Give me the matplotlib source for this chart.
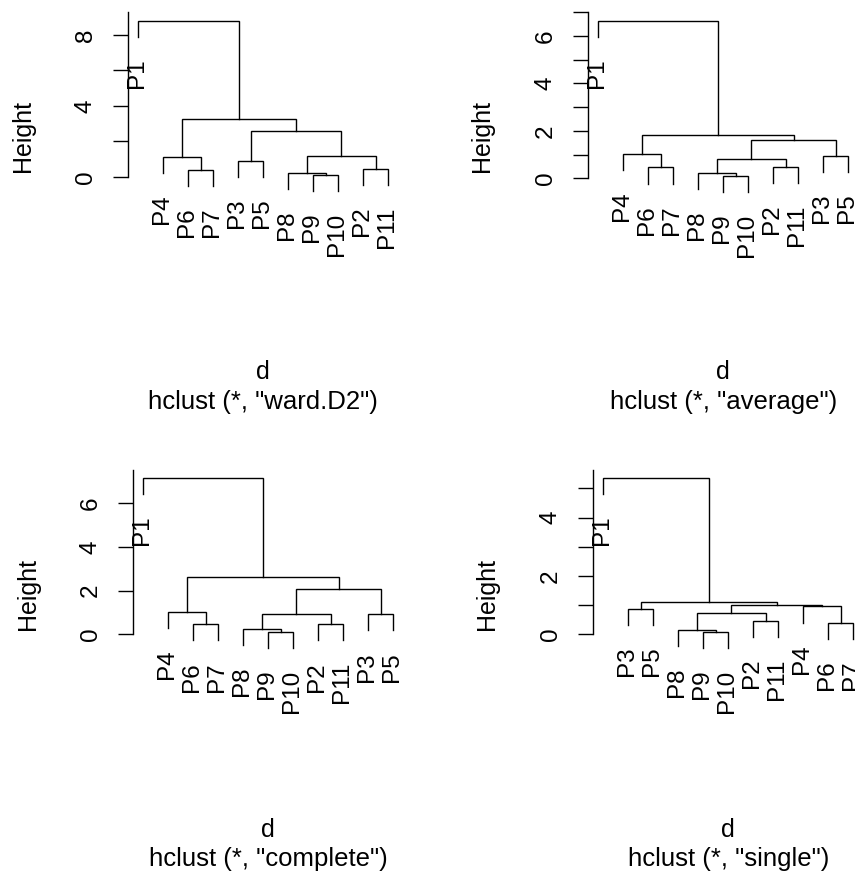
import matplotlib
matplotlib.use("Agg")
import matplotlib.pyplot as plt
from matplotlib.transforms import offset_copy

plt.rcParams['font.family'] = ['Liberation Sans', 'DejaVu Sans']

W, H = 855, 871
FS = 17.5
HANG = 0.105

# leaf orders and merges (a, b, height); ints refer to earlier merges
ward_order = ["P1", "P4", "P6", "P7", "P3", "P5", "P8", "P9", "P10", "P2", "P11"]
ward_merges = [("P9", "P10", 0.11), ("P8", 0, 0.23), ("P6", "P7", 0.40),
               ("P2", "P11", 0.46), ("P3", "P5", 0.88), ("P4", 2, 1.13),
               (1, 3, 1.19), (4, 6, 2.56), (5, 7, 3.26), ("P1", 8, 8.81)]

avg_order = ["P1", "P4", "P6", "P7", "P8", "P9", "P10", "P2", "P11", "P3", "P5"]
avg_merges = [("P9", "P10", 0.12), ("P8", 0, 0.22), ("P6", "P7", 0.46),
              ("P2", "P11", 0.49), ("P3", "P5", 0.95), (1, 3, 0.80),
              ("P4", 2, 1.03), (5, 4, 1.61), (6, 7, 1.83), ("P1", 8, 6.63)]

comp_order = ["P1", "P4", "P6", "P7", "P8", "P9", "P10", "P2", "P11", "P3", "P5"]
comp_merges = [("P9", "P10", 0.12), ("P8", 0, 0.24), ("P6", "P7", 0.46),
               ("P2", "P11", 0.46), ("P3", "P5", 0.92), (1, 3, 0.92),
               ("P4", 2, 1.04), (5, 4, 2.06), (6, 7, 2.61), ("P1", 8, 7.15)]

single_order = ["P1", "P3", "P5", "P8", "P9", "P10", "P2", "P11", "P4", "P6", "P7"]
single_merges = [("P9", "P10", 0.08), ("P8", 0, 0.16), ("P6", "P7", 0.40),
                 ("P2", "P11", 0.45), ("P3", "P5", 0.88), (1, 3, 0.71),
                 ("P4", 2, 0.95), (5, 6, 1.00), (4, 7, 1.11), ("P1", 8, 5.35)]

methods = ["ward.D2", "average", "complete", "single"]
y_ticks = [[0, 2, 4, 6, 8], [0, 1, 2, 3, 4, 5, 6, 7], [0, 2, 4, 6], [0, 1, 2, 3, 4, 5]]
y_labels = [["0", "", "4", "", "8"], ["0", "", "2", "", "4", "", "6", ""],
            ["0", "2", "4", "6"], ["0", "", "2", "", "4", ""]]

# layout: (left px, top px, ylim)
panels = [
    (ward_order, ward_merges, 128.3, 12.0, (-4.68, 9.30)),
    (avg_order, avg_merges, 588.3, 12.0, (-3.42, 7.01)),
    (comp_order, comp_merges, 133.3, 469.7, (-3.80, 7.54)),
    (single_order, single_merges, 593.3, 469.7, (-2.85, 5.64)),
]
PW, PH = 270.0, 247.6

fig = plt.figure(figsize=(W / 100, H / 100), dpi=100)

for i, (order, merges, left, top, ylim) in enumerate(panels):
    ax = fig.add_axes([left / W, 1 - (top + PH) / H, PW / W, PH / H])
    ax.set_xlim(0.6, len(order) + 0.4)
    ax.set_ylim(*ylim)
    for s in ["top", "right", "bottom"]:
        ax.spines[s].set_visible(False)
    ax.spines["left"].set_bounds(0, ylim[1])
    ax.spines["left"].set_linewidth(1.0)
    ax.set_xticks([])
    ax.set_yticks(y_ticks[i])
    ax.set_yticklabels(y_labels[i], rotation=90, va="center", fontsize=FS)
    ax.tick_params(axis="y", length=10.8, width=1.0, pad=12)
    ax.patch.set_visible(False)

    heights = [m[2] for m in merges]
    hang = HANG * (max(heights) - min(heights))
    leaf_x = {name: k + 1 for k, name in enumerate(order)}
    nodes = []
    lab_tr = offset_copy(ax.transData, fig=fig, x=-1.0, y=-15.5, units="points")
    for a, b, h in merges:
        pts = []
        for c in (a, b):
            if isinstance(c, str):
                xc, yc = leaf_x[c], h - hang
                ax.text(xc, yc, c, rotation=90, ha="center", va="top",
                        fontsize=FS, transform=lab_tr, clip_on=False)
            else:
                xc, yc = nodes[c]
            pts.append((xc, yc))
        (xa, ya), (xb, yb) = pts
        ax.plot([xa, xa, xb, xb], [ya, h, h, yb], color="black", lw=1.0,
                solid_joinstyle="miter", clip_on=False)
        nodes.append(((xa + xb) / 2, h))

    cx = left + PW / 2
    fig.text((left - 105.8) / W, 1 - (top + PH / 2) / H, "Height", rotation=90,
             ha="center", va="center", fontsize=18)
    fig.text(cx / W, 1 - (top + 367.3) / H, "d", ha="center", va="baseline",
             fontsize=18)
    fig.text(cx / W, 1 - (top + 396.6) / H, 'hclust (*, "%s")' % methods[i],
             ha="center", va="baseline", fontsize=18.5)

fig.savefig("out.png", dpi=100)
